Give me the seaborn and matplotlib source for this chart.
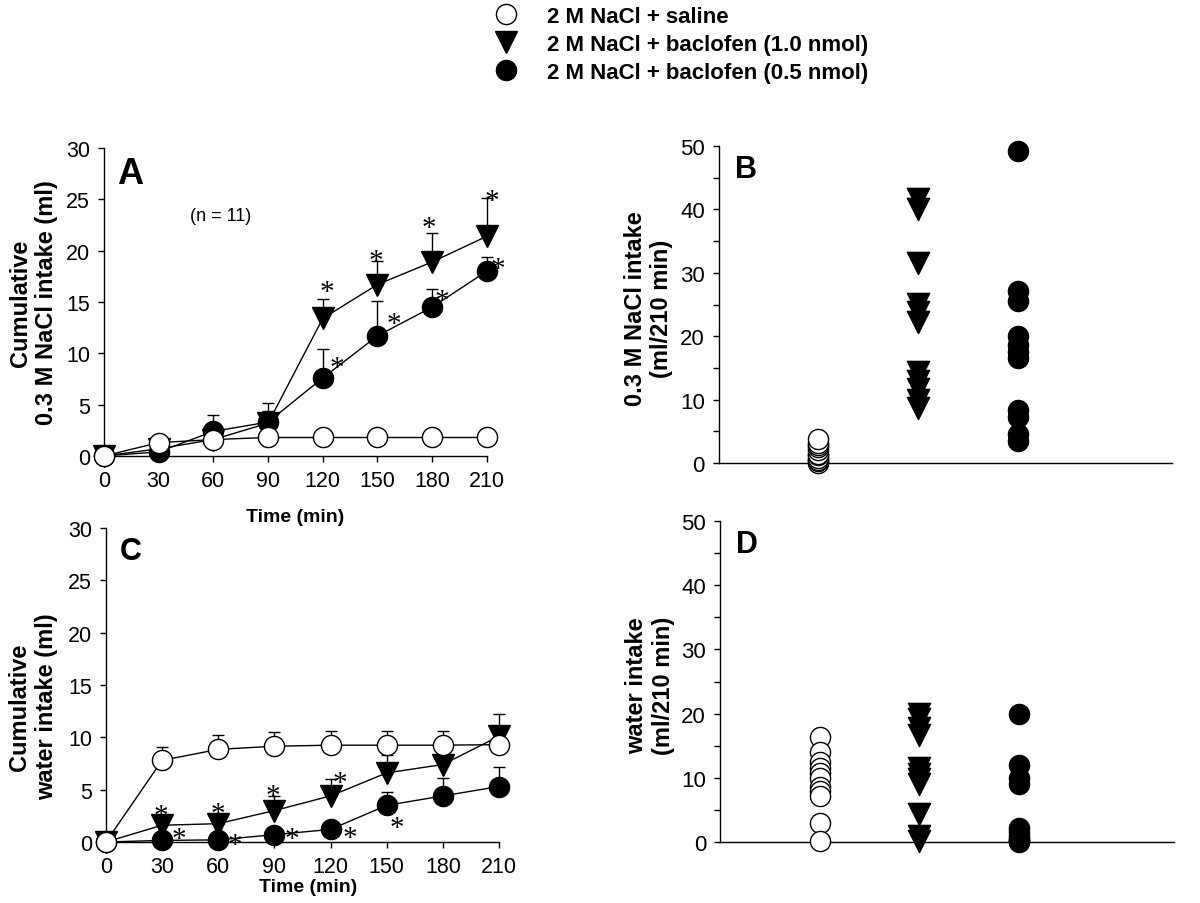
import numpy as np
import pandas as pd
import matplotlib
matplotlib.use('Agg')
import matplotlib.pyplot as plt
from matplotlib.lines import Line2D
import seaborn as sns

# time course (means and upper SEM)
times = [0, 30, 60, 90, 120, 150, 180, 210]

nacl_saline = [0, 1.3, 1.6, 1.8, 1.8, 1.8, 1.8, 1.8]
nacl_saline_sem = [0, 0.3, 0.3, 0.3, 0.3, 0.3, 0.3, 0.3]
nacl_bac10 = [0, 0.7, 1.6, 3.2, 13.4, 16.7, 18.9, 21.4]
nacl_bac10_sem = [0, 0.3, 0.5, 2.0, 1.9, 2.3, 2.8, 3.7]
nacl_bac05 = [0, 0.4, 2.4, 3.3, 7.6, 11.7, 14.5, 18.0]
nacl_bac05_sem = [0, 0.3, 1.6, 1.1, 2.8, 3.4, 1.8, 1.4]

water_saline = [0, 7.8, 8.85, 9.15, 9.25, 9.25, 9.25, 9.3]
water_saline_sem = [0, 1.3, 1.35, 1.35, 1.35, 1.35, 1.35, 1.3]
water_bac10 = [0, 1.6, 1.75, 3.0, 4.4, 6.6, 7.4, 10.1]
water_bac10_sem = [0, 0.8, 0.8, 1.4, 1.6, 1.7, 1.3, 2.1]
water_bac05 = [0, 0.15, 0.2, 0.7, 1.2, 3.5, 4.4, 5.3]
water_bac05_sem = [0, 0.2, 0.2, 0.3, 0.4, 1.3, 1.7, 1.9]

# individual rats, total intake over 210 min
groups = ['saline', 'bac10', 'bac05']
labels = ['2 M NaCl + saline', '2 M NaCl + baclofen (1.0 nmol)', '2 M NaCl + baclofen (0.5 nmol)']
nacl_total_saline = [0, 0.3, 0.5, 0.8, 1.2, 1.5, 2.0, 2.5, 2.8, 3.2, 3.8]
nacl_total_bac10 = [41.6, 40.0, 31.6, 25.1, 23.8, 22.2, 14.3, 13.0, 11.7, 9.9, 8.6]
nacl_total_bac05 = [49.2, 27.2, 25.5, 20.0, 18.6, 17.5, 16.5, 8.3, 7.2, 4.5, 3.5]
water_total_saline = [16.3, 14.0, 12.5, 11.5, 10.8, 10.0, 8.5, 8.0, 7.2, 3.0, 0.1]
water_total_bac10 = [20.0, 19.2, 17.8, 16.6, 11.5, 10.6, 9.8, 9.0, 4.3, 1.0, 0.2]
water_total_bac05 = [20.0, 12.0, 10.0, 9.0, 2.2, 1.5, 1.0, 0.5, 0.3, 0.1, 0.0]

# asterisks: (series, time index, dx px, dy px) relative to the mean point
stars_a = [('bac10', 4, 4, 33), ('bac10', 5, -2, 31), ('bac10', 6, -3, 41), ('bac10', 7, 5, 42),
           ('bac05', 4, 14, 17), ('bac05', 5, 16, 19), ('bac05', 6, 10, 13), ('bac05', 7, 11, 9)]
stars_c = [('bac10', 1, -1, 16), ('bac10', 2, 0, 17), ('bac10', 3, -1, 22), ('bac10', 4, 9, 20),
           ('bac05', 1, 17, 8), ('bac05', 2, 17, 2), ('bac05', 3, 18, 3), ('bac05', 4, 19, -2),
           ('bac05', 5, 10, -16)]

sns.set_style('ticks')
plt.rcParams['font.family'] = ['Liberation Sans', 'DejaVu Sans']
plt.rcParams.update({'text.color': 'black', 'axes.labelcolor': 'black', 'axes.edgecolor': 'black',
                     'xtick.color': 'black', 'ytick.color': 'black', 'axes.linewidth': 1})

styles = {
    'saline': dict(marker='o', mfc='white', ms=14.5),
    'bac10': dict(marker='v', mfc='black', ms=16),
    'bac05': dict(marker='o', mfc='black', ms=14.5),
}

fig = plt.figure(figsize=(12, 9.04), dpi=100)
ax_a = fig.add_axes([0.0867, 0.4945, 0.319, 0.3407])
ax_b = fig.add_axes([0.599, 0.4867, 0.378, 0.3507])
ax_c = fig.add_axes([0.0883, 0.0675, 0.3275, 0.3473])
ax_d = fig.add_axes([0.600, 0.0675, 0.378, 0.355])


def time_course(ax, series, stars):
    # draw order: 0.5 nmol, 1.0 nmol, saline on top
    for z, key in enumerate(['bac05', 'bac10', 'saline']):
        vals, sem = series[key]
        ax.errorbar(times, vals, yerr=[np.zeros(len(sem)), sem], fmt='none', ecolor='black',
                    elinewidth=1, capsize=4, capthick=1, zorder=2 + 2 * z, clip_on=False)
        sns.lineplot(x=times, y=vals, ax=ax, color='black', linewidth=1,
                     marker=styles[key]['marker'], markersize=styles[key]['ms'],
                     markerfacecolor=styles[key]['mfc'], markeredgecolor='black',
                     markeredgewidth=1, clip_on=False, zorder=3 + 2 * z)
    for key, i, dx, dy in stars:
        ax.annotate('*', (times[i], series[key][0][i]), xytext=(dx, dy - 14),
                    textcoords='offset pixels', ha='center', va='baseline',
                    fontsize=21, family='Liberation Serif')
    ax.set_xlim(0, 210)
    ax.set_ylim(0, 30)
    ax.set_xticks(times)
    ax.set_yticks(range(0, 31, 5))
    ax.tick_params(direction='out', length=4, width=1, labelsize=15.5, pad=6)
    sns.despine(ax=ax)


def scatter_panel(ax, totals):
    df = pd.DataFrame({
        'group': np.repeat(groups, [len(totals[g]) for g in groups]),
        'value': np.concatenate([totals[g] for g in groups]),
    })
    for g in groups:
        sns.stripplot(data=df[df['group'] == g], x='group', y='value', order=groups, ax=ax,
                      jitter=False, marker=styles[g]['marker'], size=styles[g]['ms'],
                      color=styles[g]['mfc'], edgecolor='black', linewidth=1, clip_on=False)
    ax.set_xlim(-1, 3.55)
    ax.set_ylim(0, 50)
    ax.set_xticks([])
    ax.set_xlabel('')
    ax.set_yticks(range(0, 51, 10))
    ax.set_yticks(range(5, 50, 10), minor=True)
    ax.tick_params(axis='y', which='both', direction='out', length=4, width=1, labelsize=16, pad=6)
    sns.despine(ax=ax)


time_course(ax_a, {'saline': (nacl_saline, nacl_saline_sem), 'bac10': (nacl_bac10, nacl_bac10_sem),
                   'bac05': (nacl_bac05, nacl_bac05_sem)}, stars_a)
time_course(ax_c, {'saline': (water_saline, water_saline_sem), 'bac10': (water_bac10, water_bac10_sem),
                   'bac05': (water_bac05, water_bac05_sem)}, stars_c)
scatter_panel(ax_b, {'saline': nacl_total_saline, 'bac10': nacl_total_bac10, 'bac05': nacl_total_bac05})
scatter_panel(ax_d, {'saline': water_total_saline, 'bac10': water_total_bac10, 'bac05': water_total_bac05})

lab_font = dict(fontsize=17, fontweight='bold')
ax_a.set_ylabel('Cumulative\n0.3 M NaCl intake (ml)', **lab_font)
ax_a.yaxis.set_label_coords(-0.12, 0.5)
ax_a.set_xlabel('Time (min)', fontsize=14, fontweight='bold')
ax_a.xaxis.set_label_coords(0.5, -0.17)
ax_c.set_ylabel('Cumulative\nwater intake (ml)', **lab_font)
ax_c.yaxis.set_label_coords(-0.122, 0.433)
ax_c.set_xlabel('Time (min)', fontsize=14, fontweight='bold')
ax_c.xaxis.set_label_coords(0.514, -0.115)
ax_b.set_ylabel('0.3 M NaCl intake\n(ml/210 min)', **lab_font)
ax_b.yaxis.set_label_coords(-0.10, 0.49)
ax_d.set_ylabel('water intake\n(ml/210 min)', **lab_font)
ax_d.yaxis.set_label_coords(-0.10, 0.49)

for ax, letter, size in [(ax_a, 'A', 26), (ax_b, 'B', 22), (ax_c, 'C', 22), (ax_d, 'D', 22)]:
    ax.text(0.035, 0.975, letter, transform=ax.transAxes, ha='left', va='top',
            fontsize=size, fontweight='bold')
ax_a.text(0.225, 0.78, '(n = 11)', transform=ax_a.transAxes, ha='left', va='center', fontsize=13)

handles = [Line2D([], [], ls='none', marker=styles[g]['marker'], ms=styles[g]['ms'],
                  mfc=styles[g]['mfc'], mec='black', mew=1) for g in groups]
fig.legend(handles, labels, loc='upper left', bbox_to_anchor=(0.394, 1.005), frameon=False,
           borderpad=0, handlelength=2, handletextpad=0.85, labelspacing=0.33,
           prop=dict(size=16, weight='bold'))

fig.savefig('out.png', dpi=100)
